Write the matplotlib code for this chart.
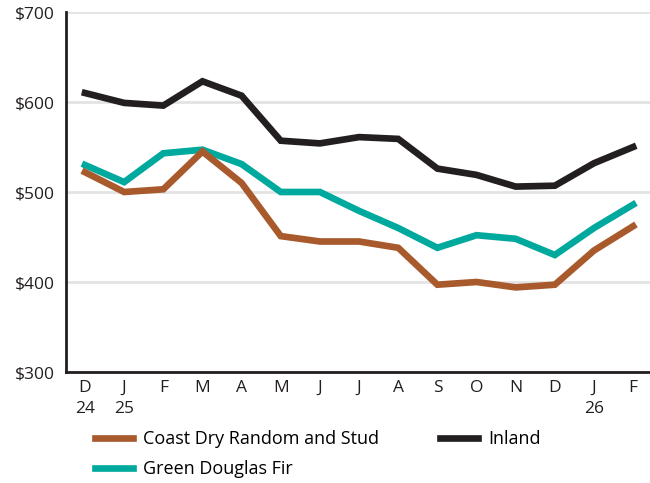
import matplotlib
matplotlib.use('Agg')
import matplotlib.pyplot as plt
import numpy as np

plt.rcParams['font.family'] = ['Open Sans', 'DejaVu Sans']

months = ['D\n24', 'J\n25', 'F', 'M', 'A', 'M', 'J', 'J', 'A', 'S', 'O', 'N', 'D', 'J\n26', 'F']
coast = [522, 500, 503, 545, 510, 451, 445, 445, 438, 397, 400, 394, 397, 435, 462]
douglas = [530, 511, 543, 547, 531, 500, 500, 479, 460, 438, 452, 448, 430, 460, 486]
inland = [610, 599, 596, 623, 607, 557, 554, 561, 559, 526, 519, 506, 507, 532, 550]

c_coast = '#A95A2C'
c_doug = '#00A99D'
c_inland = '#231F20'

fig = plt.figure(figsize=(6.5, 4.83), dpi=100)
ax = fig.add_axes([66/650, 1 - 372/483, 1 - 66/650, 360/483])

x = np.arange(len(months))
lw = 4.8
l1, = ax.plot(x, coast, color=c_coast, lw=lw, solid_joinstyle='miter', label='Coast Dry Random and Stud', zorder=3)
l3, = ax.plot(x, inland, color=c_inland, lw=lw, solid_joinstyle='miter', label='Inland', zorder=3)
l2, = ax.plot(x, douglas, color=c_doug, lw=lw, solid_joinstyle='miter', label='Green Douglas Fir', zorder=2)

ax.set_ylim(300, 700)
ax.set_xlim(-0.485, 14.43)
ax.set_yticks([300, 400, 500, 600, 700])
ax.set_yticklabels(['$300', '$400', '$500', '$600', '$700'])
ax.set_xticks(x)
ax.set_xticklabels(months, linespacing=1.35, va='top')
ax.tick_params(axis='both', length=0, labelsize=12.5, colors='#231F20')
ax.tick_params(axis='x', pad=6)
ax.tick_params(axis='y', pad=8)
ax.grid(axis='y', color='#E3E3E3', lw=2)
ax.set_axisbelow(True)
for s in ['top', 'right']:
    ax.spines[s].set_visible(False)
for s in ['left', 'bottom']:
    ax.spines[s].set_linewidth(2)
    ax.spines[s].set_color('#231F20')
    ax.spines[s].set_zorder(4)

fig.legend(handles=[l1, l2, l3], loc='upper left', bbox_to_anchor=(0.146, 1 - 430/483),
           ncol=2, frameon=False, fontsize=13, handlelength=2.1, handletextpad=0.55,
           columnspacing=3.4, labelspacing=0.66, borderaxespad=0, borderpad=0)

fig.savefig('out.png', dpi=100)
